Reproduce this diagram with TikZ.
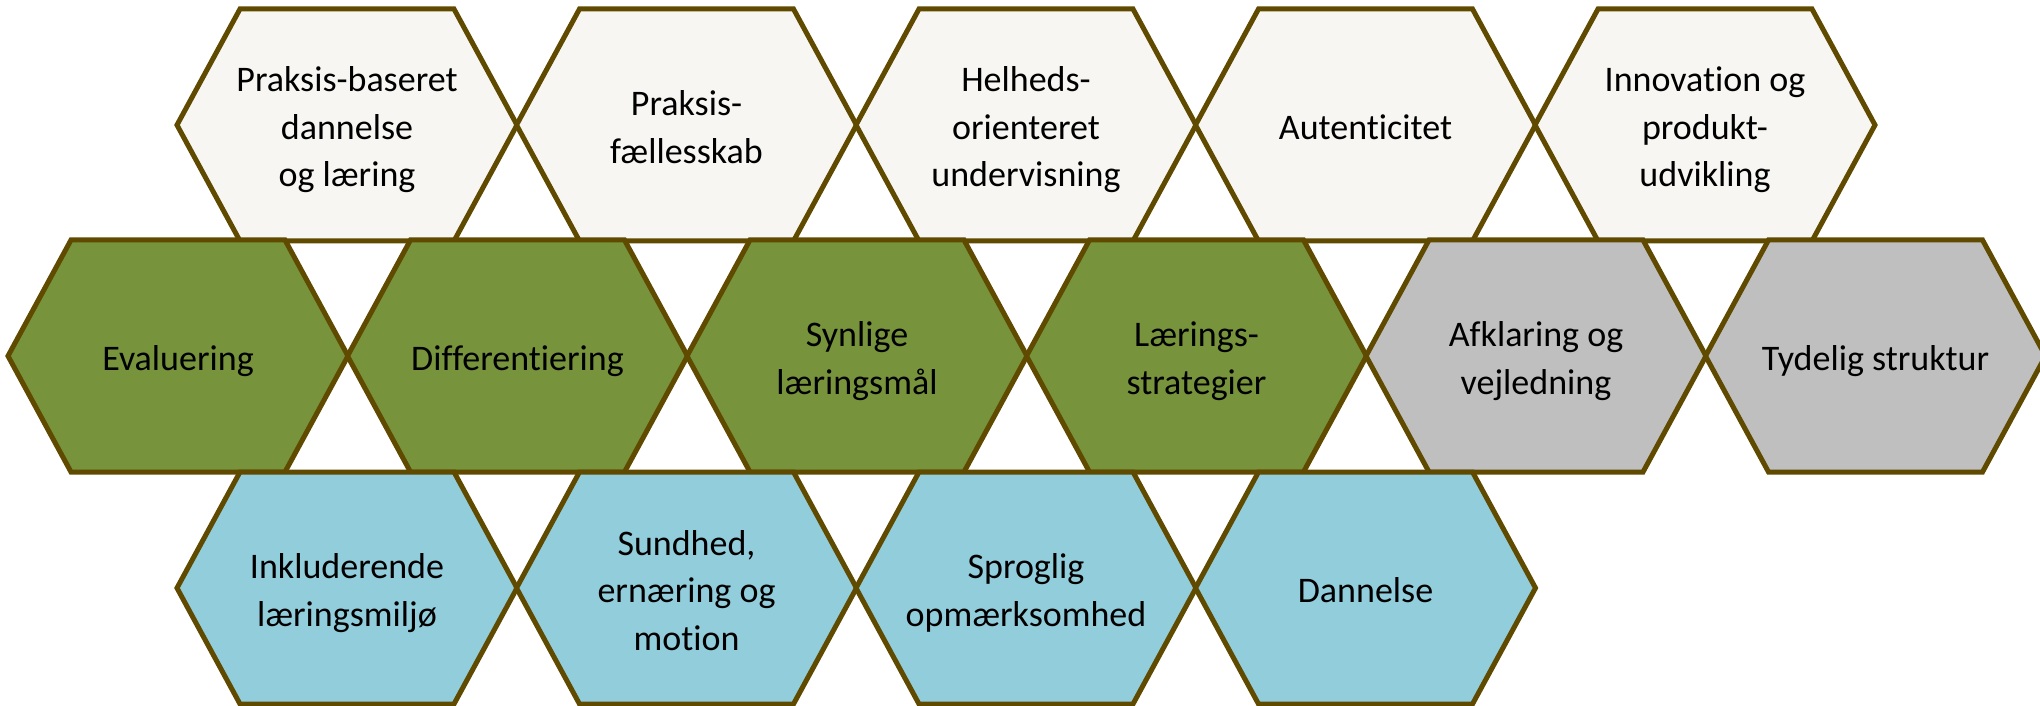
\documentclass[tikz,border=0pt]{standalone}
\usepackage{fontspec}
\setmainfont{Carlito}[Ligatures=NoCommon]
\definecolor{hexbeige}{HTML}{F7F6F2}
\definecolor{hexgreen}{HTML}{77933C}
\definecolor{hexgray}{HTML}{BFBFBF}
\definecolor{hexblue}{HTML}{92CDDC}
\definecolor{hexedge}{HTML}{604A00}
\newcommand\hs{\rule[-9pt]{0pt}{47pt}}
\newcommand\hexcell[5]{%
  \path[hexline,fill=#4] (#2,#3) ++(-170,0) -- ++(63,116) -- ++(214,0) -- ++(63,-116) -- ++(-63,-116) -- ++(-214,0) -- cycle;
  \node[hextext] (#1) at (#2,#3) {#5};}
\tikzset{
  hexline/.style={draw=hexedge, line width=5pt, line join=miter},
  hextext/.style={inner sep=0pt, align=center, text=black, font=\fontsize{36}{47.5}\selectfont}
}
\begin{document}
\begin{tikzpicture}[x=1pt,y=1pt]
\useasboundingbox (0,0) rectangle (2040,705);
\clip (0,0) rectangle (2040,705);
% top row
\hexcell{t1}{347}{580}{hexbeige}{\hs Praksis-baseret\\\hs dannelse\\\hs og læring}
\hexcell{t2}{686.5}{580}{hexbeige}{\hs Praksis-\\\hs fællesskab}
\hexcell{t3}{1026}{580}{hexbeige}{\hs Helheds-\\\hs orienteret\\\hs undervisning}
\hexcell{t4}{1365.5}{580}{hexbeige}{\hs Autenticitet}
\hexcell{t5}{1705}{580}{hexbeige}{\hs Innovation og\\\hs produkt-\\\hs udvikling}
% middle row
\hexcell{m1}{178}{349}{hexgreen}{\hs Evaluering}
\hexcell{m2}{517.5}{349}{hexgreen}{\hs Differentiering}
\hexcell{m3}{857}{349}{hexgreen}{\hs Synlige\\\hs læringsmål}
\hexcell{m4}{1196.5}{349}{hexgreen}{\hs Lærings-\\\hs strategier}
\hexcell{m5}{1536}{349}{hexgray}{\hs Afklaring og\\\hs vejledning}
\hexcell{m6}{1875.5}{349}{hexgray}{\hs Tydelig struktur}
% bottom row
\hexcell{b1}{347}{117}{hexblue}{\hs Inkluderende\\\hs læringsmiljø}
\hexcell{b2}{686.5}{117}{hexblue}{\hs Sundhed,\\\hs ernæring og\\\hs motion}
\hexcell{b3}{1026}{117}{hexblue}{\hs Sproglig\\\hs opmærksomhed}
\hexcell{b4}{1365.5}{117}{hexblue}{\hs Dannelse}
\end{tikzpicture}
\end{document}
